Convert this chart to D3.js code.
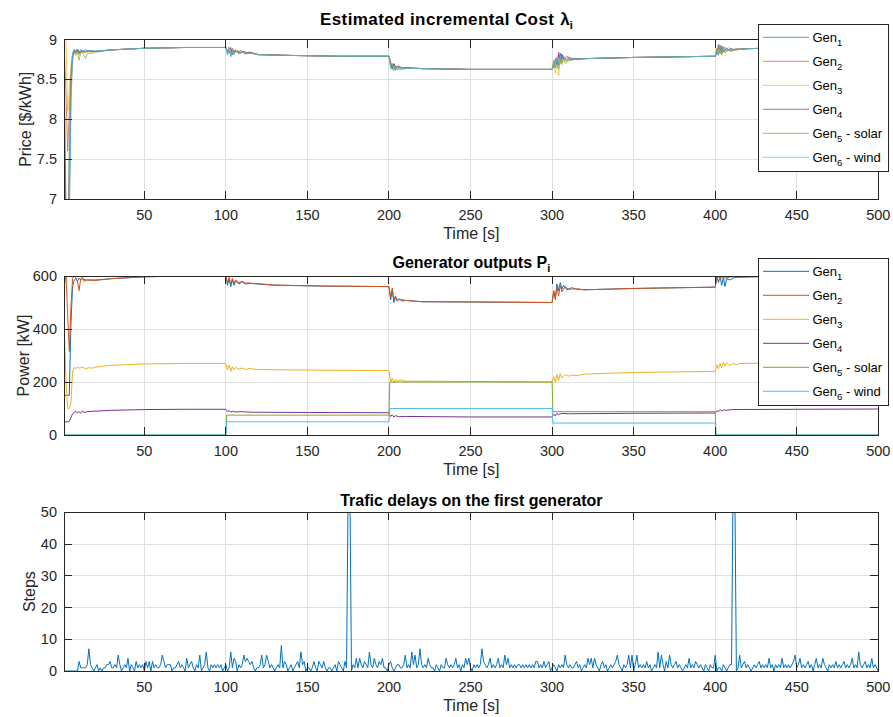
<!DOCTYPE html>
<html><head><meta charset="utf-8">
<script src="https://cdn.jsdelivr.net/npm/d3@7"></script>
<style>
body{margin:0;background:#fff}
svg{font-family:"Liberation Sans",Arial,Helvetica,sans-serif;display:block}
</style>
</head><body>
<svg id="chart" width="893" height="717"></svg>
<script>
// ---------------- DATA ----------------
const genLabels = ["Gen","Gen","Gen","Gen","Gen","Gen"];
const genSubs = ["1","2","3","4","5","6"];
const genSuffix = ["","","",""," - solar"," - wind"];
const genColors = ["#0072BD","#D95319","#EDB120","#7E2F8E","#77AC30","#4DBEEE"];

const timeTicks = [50,100,150,200,250,300,350,400,450,500];
const priceTicks = [7,7.5,8,8.5,9];
const powerTicks = [0,200,400,600];
const stepTicks = [0,10,20,30,40,50];

// Estimated incremental cost lambda_i  [t, $/kWh]
const lambdaGen1 = [[1,7.62],[2,6.6],[3,6.3],[4,6.7],[5,8.3],[6,8.78],[7,8.87],[8,8.84],[9,8.88],[10,8.84],[11,8.87],[12,8.85],[14,8.87],[16,8.85],[20,8.85],[30,8.87],[50,8.89],[75,8.9],[100,8.9],[101,8.82],[102,8.9],[103,8.79],[104,8.88],[105,8.82],[106,8.87],[108,8.83],[110,8.85],[112,8.82],[114,8.84],[120,8.81],[140,8.8],[170,8.79],[200,8.79],[201,8.68],[202,8.63],[203,8.69],[204,8.62],[205,8.66],[207,8.63],[210,8.645],[220,8.635],[250,8.625],[300,8.625],[301,8.7],[302,8.64],[303,8.77],[304,8.68],[305,8.83],[306,8.72],[307,8.79],[309,8.73],[311,8.77],[315,8.755],[320,8.76],[350,8.775],[400,8.79],[401,8.86],[402,8.8],[403,8.93],[404,8.83],[405,8.91],[407,8.85],[409,8.89],[412,8.87],[420,8.885],[450,8.9],[500,8.905]];
const lambdaGen2 = [[1,8.83],[2,8.3],[3,7.6],[4,8.1],[5,8.6],[6,8.82],[7,8.85],[8,8.83],[9,8.86],[10,8.82],[11,8.85],[13,8.84],[15,8.86],[20,8.85],[30,8.87],[50,8.89],[75,8.9],[100,8.9],[101,8.85],[102,8.88],[103,8.82],[104,8.89],[105,8.84],[107,8.86],[109,8.83],[111,8.85],[114,8.83],[120,8.81],[140,8.8],[170,8.79],[200,8.79],[201,8.7],[202,8.66],[203,8.68],[204,8.64],[206,8.66],[208,8.64],[210,8.645],[220,8.635],[250,8.625],[300,8.625],[301,8.68],[302,8.72],[303,8.66],[304,8.8],[305,8.7],[306,8.8],[308,8.74],[310,8.78],[312,8.75],[315,8.76],[320,8.76],[350,8.775],[400,8.79],[401,8.84],[402,8.9],[403,8.82],[404,8.92],[405,8.86],[406,8.9],[408,8.86],[410,8.88],[413,8.87],[420,8.885],[450,8.9],[500,8.905]];
const lambdaGen3 = [[1,9.1],[2,9.0],[3,8.1],[4,8.35],[5,8.65],[6,8.83],[7,8.86],[8,8.82],[9,8.85],[10,8.8],[11,8.85],[12,8.83],[14,8.85],[17,8.84],[20,8.85],[30,8.87],[50,8.89],[75,8.9],[100,8.9],[101,8.84],[102,8.91],[103,8.81],[104,8.87],[105,8.83],[106,8.88],[108,8.82],[110,8.85],[112,8.83],[115,8.84],[120,8.81],[140,8.8],[170,8.79],[200,8.79],[201,8.66],[202,8.7],[203,8.62],[204,8.67],[205,8.63],[207,8.65],[210,8.64],[220,8.635],[250,8.625],[300,8.625],[301,8.72],[302,8.58],[303,8.74],[304,8.55],[305,8.78],[306,8.68],[307,8.8],[308,8.72],[310,8.77],[312,8.74],[315,8.76],[320,8.76],[350,8.775],[400,8.79],[401,8.88],[402,8.82],[403,8.9],[404,8.8],[405,8.92],[406,8.85],[408,8.9],[410,8.86],[413,8.88],[420,8.885],[450,8.9],[500,8.905]];
const lambdaGen4 = [[1,8.5],[2,6.8],[3,6.5],[4,7.5],[5,8.5],[6,8.8],[7,8.86],[8,8.84],[9,8.87],[10,8.83],[12,8.86],[14,8.84],[16,8.86],[20,8.85],[30,8.87],[50,8.89],[75,8.9],[100,8.9],[101,8.86],[102,8.83],[103,8.9],[104,8.81],[105,8.86],[107,8.84],[109,8.86],[112,8.83],[115,8.84],[120,8.81],[140,8.8],[170,8.79],[200,8.79],[201,8.72],[202,8.64],[203,8.7],[204,8.65],[206,8.67],[208,8.64],[210,8.645],[220,8.635],[250,8.625],[300,8.625],[301,8.66],[302,8.76],[303,8.7],[304,8.84],[305,8.74],[306,8.82],[307,8.75],[309,8.79],[311,8.75],[315,8.76],[320,8.76],[350,8.775],[400,8.79],[401,8.82],[402,8.94],[403,8.85],[404,8.9],[405,8.84],[407,8.89],[409,8.86],[412,8.88],[420,8.885],[450,8.9],[500,8.905]];
const lambdaGen5 = [[1,7.2],[2,6.2],[3,6.3],[4,7.6],[5,8.5],[6,8.72],[7,8.84],[8,8.8],[9,8.84],[10,8.74],[11,8.83],[12,8.85],[13,8.8],[14,8.76],[15,8.83],[17,8.82],[20,8.84],[30,8.87],[50,8.89],[75,8.9],[100,8.9],[101,8.83],[102,8.88],[103,8.8],[104,8.86],[105,8.81],[106,8.86],[108,8.82],[110,8.84],[113,8.82],[116,8.83],[120,8.81],[140,8.8],[170,8.79],[200,8.79],[201,8.64],[202,8.69],[203,8.61],[204,8.67],[205,8.62],[207,8.65],[209,8.63],[212,8.64],[220,8.635],[250,8.625],[300,8.625],[301,8.74],[302,8.66],[303,8.72],[304,8.63],[305,8.76],[306,8.7],[307,8.75],[308,8.7],[310,8.73],[313,8.75],[316,8.745],[320,8.76],[350,8.775],[400,8.79],[401,8.89],[402,8.83],[403,8.87],[404,8.81],[405,8.88],[406,8.83],[408,8.87],[410,8.85],[413,8.875],[420,8.885],[450,8.9],[500,8.905]];
const lambdaGen6 = [[1,6.5],[2,6.0],[3,6.2],[4,6.9],[5,8.1],[6,8.83],[7,8.88],[8,8.86],[9,8.88],[10,8.85],[11,8.87],[13,8.85],[15,8.86],[20,8.855],[30,8.87],[50,8.89],[75,8.9],[100,8.9],[101,8.8],[102,8.89],[103,8.78],[104,8.87],[105,8.81],[106,8.86],[108,8.82],[110,8.84],[112,8.82],[115,8.83],[120,8.81],[140,8.8],[170,8.79],[200,8.79],[201,8.65],[202,8.62],[203,8.67],[204,8.61],[205,8.65],[207,8.62],[210,8.64],[220,8.635],[250,8.625],[300,8.625],[301,8.71],[302,8.65],[303,8.78],[304,8.7],[305,8.79],[306,8.73],[308,8.77],[310,8.74],[312,8.76],[316,8.755],[320,8.76],[350,8.775],[400,8.79],[401,8.85],[402,8.81],[403,8.91],[404,8.84],[405,8.9],[407,8.86],[409,8.88],[412,8.87],[420,8.885],[450,8.9],[500,8.905]];

// Generator outputs P_i  [t, kW]
const powerGen1 = [[1,150],[2,150],[3,150],[4,150],[5,420],[6,560],[7,585],[8,590],[9,580],[10,592],[11,585],[12,590],[14,585],[20,585],[30,590],[50,597],[75,600],[100,600],[101,565],[102,590],[103,560],[104,585],[105,565],[106,580],[108,570],[110,578],[112,570],[115,572],[130,565],[160,562],[200,560],[201,510],[202,545],[203,500],[204,520],[205,505],[206,515],[208,505],[210,508],[220,503],[250,502],[300,500],[301,540],[302,520],[303,570],[304,545],[305,575],[306,550],[307,565],[309,548],[312,556],[315,550],[320,548],[350,553],[400,558],[401,600],[402,575],[403,598],[404,565],[405,595],[406,560],[407,590],[409,585],[412,595],[420,596],[450,600],[500,602]];
const powerGen2 = [[1,570],[2,600],[3,450],[4,315],[5,480],[6,590],[7,600],[8,595],[9,580],[10,545],[11,590],[12,595],[13,580],[15,585],[20,583],[30,590],[50,597],[75,600],[100,600],[101,575],[102,595],[103,570],[104,592],[105,572],[106,585],[108,575],[110,580],[112,574],[115,573],[130,566],[160,562],[200,560],[201,520],[202,555],[203,510],[204,525],[205,508],[207,512],[210,508],[220,503],[250,502],[300,500],[301,545],[302,510],[303,560],[304,525],[305,565],[306,540],[308,560],[310,550],[315,552],[320,548],[350,553],[400,558],[401,590],[402,600],[403,585],[404,598],[406,592],[410,597],[420,598],[450,600],[500,602]];
const powerGen3 = [[1,390],[2,200],[3,100],[4,100],[5,120],[6,240],[7,255],[8,250],[9,258],[10,252],[12,256],[14,250],[16,254],[18,252],[20,256],[25,260],[30,263],[50,268],[75,270],[100,270],[101,245],[102,265],[103,240],[104,258],[105,245],[106,255],[108,248],[110,253],[112,247],[114,251],[120,247],[150,245],[200,243],[201,200],[202,215],[203,198],[204,210],[205,203],[207,208],[210,203],[220,203],[250,202],[300,200],[301,220],[302,198],[303,228],[304,205],[305,232],[306,215],[308,228],[310,222],[312,226],[315,224],[320,230],[350,236],[400,240],[401,265],[402,250],[403,270],[404,255],[405,275],[406,260],[407,272],[409,262],[411,270],[413,265],[415,270],[450,272],[500,273]];
const powerGen4 = [[1,50],[2,50],[3,50],[4,52],[5,65],[6,80],[7,85],[8,90],[9,83],[10,88],[11,82],[12,91],[13,85],[15,88],[20,90],[30,93],[50,96],[75,97],[100,97],[101,88],[102,93],[103,86],[104,90],[106,87],[110,88],[115,86],[150,85],[200,84],[201,70],[202,76],[203,68],[204,73],[206,69],[210,70],[250,68],[300,68],[301,78],[302,72],[303,82],[304,77],[306,82],[310,80],[350,82],[400,83],[401,92],[402,88],[403,96],[404,90],[405,95],[407,93],[410,96],[450,97],[500,98]];
const powerGen5 = [[1,0],[100,0],[100.5,75],[200,75],[200.5,200],[300,200],[300.5,88],[400,88],[400.5,0],[500,0]];
const powerGen6 = [[1,0],[100,0],[100.5,50],[200,50],[200.5,100],[300,100],[300.5,45],[400,45],[400.5,0],[500,0]];

// Traffic delays on the first generator, steps per second t = 1..500
const delaySteps = [
0,0,0,0,0,0,0,0,0,3, 1,1,1,1,2,7,2,1,0,1, 2,0,1,0,1,1,2,2,3,1, 1,2,1,5,2,0,1,2,1,4,
0,2,1,0,3,1,2,1,2,0, 3,1,3,0,3,1,2,1,1,2, 5,3,1,2,2,2,0,1,1,2, 3,1,2,1,0,4,1,2,3,1,
0,2,1,5,0,1,2,6,1,0, 2,1,2,1,2,1,2,0,1,2, 0,1,6,1,4,3,0,2,1,2, 5,3,4,3,2,3,1,0,1,1,
2,5,1,2,5,3,1,2,1,0, 1,2,1,8,1,3,2,0,1,2, 0,1,2,3,1,6,2,3,0,1, 1,0,1,3,1,0,3,2,1,3,
1,0,1,1,0,1,2,0,3,2, 1,0,3,1,60,60,0,2,1,4, 1,4,2,1,3,2,1,6,2,1, 4,2,1,3,2,4,1,1,0,2,
3,1,0,1,2,2,1,1,2,5, 1,2,1,6,2,5,1,2,7,2, 1,2,1,4,2,1,1,0,2,1, 0,2,1,1,4,2,1,2,1,2,
4,1,2,0,2,1,4,2,4,1, 0,2,1,2,1,2,7,3,2,1, 2,4,1,2,1,2,4,1,2,1, 5,2,4,1,2,1,2,1,2,2,
1,2,1,2,1,2,1,2,1,3, 3,1,2,1,3,1,2,3,0,1, 2,1,0,2,1,2,1,5,2,1, 2,1,1,2,3,1,2,0,1,2,
1,4,2,4,1,4,2,1,0,2, 3,1,2,0,1,2,1,2,3,5, 2,1,0,2,1,2,5,1,5,0, 2,5,1,2,1,2,1,3,1,2,
0,1,2,1,6,1,5,2,0,3, 1,5,2,1,2,3,1,2,1,0, 1,2,1,4,1,2,1,3,2,1, 2,1,0,2,1,0,2,1,1,5,
0,1,1,0,2,1,0,1,2,2, 60,60,0,1,5,1,2,3,1,2, 1,0,1,2,1,2,3,1,2,1, 2,1,4,1,2,0,2,1,2,1,
4,1,2,1,2,1,2,3,5,1, 2,4,1,2,1,2,3,1,2,0, 2,4,1,2,1,4,2,1,0,2, 1,2,1,3,1,2,1,2,3,1,
2,1,2,4,1,2,1,6,2,1, 2,3,1,2,1,4,1,2,1,0];
const delayTime = d3.range(1, delaySteps.length + 1);

// ---------------- DRAWING ----------------
const svg = d3.select("#chart");
const X0 = 64.4, X1 = 878.3;
const x = d3.scaleLinear().domain([1, 500]).range([X0, X1]);
const axisColor = "#262626";
const gridColor = "#dfdfdf";
const tickFont = 14.5;
const legendFont = 13;

function panel(opt) {
  const y = d3.scaleLinear().domain(opt.yDomain).range([opt.bottom, opt.top]);
  const g = svg.append("g");
  const clipId = "clip" + opt.id;
  svg.append("clipPath").attr("id", clipId).append("rect")
    .attr("x", X0).attr("y", opt.top).attr("width", X1 - X0).attr("height", opt.bottom - opt.top);

  // grid
  g.append("g").attr("shape-rendering","crispEdges").selectAll("line").data(timeTicks).join("line")
    .attr("x1", d => x(d)).attr("x2", d => x(d)).attr("y1", opt.top).attr("y2", opt.bottom)
    .attr("stroke", gridColor).attr("stroke-width", 1);
  g.append("g").attr("shape-rendering","crispEdges").selectAll("line").data(opt.yTicks).join("line")
    .attr("x1", X0).attr("x2", X1).attr("y1", d => y(d)).attr("y2", d => y(d))
    .attr("stroke", gridColor).attr("stroke-width", 1);

  // lines
  const line = d3.line().x(d => x(d[0])).y(d => y(d[1]));
  const lg = g.append("g").attr("clip-path", `url(#${clipId})`);
  opt.series.forEach((s, i) => {
    lg.append("path").attr("d", line(s)).attr("fill", "none")
      .attr("stroke", opt.colors[i]).attr("stroke-width", 1)
      .attr("stroke-opacity", opt.opacity).attr("stroke-linejoin","round");
  });

  // axes box + ticks (inward, all sides)
  const ax = g.append("g").attr("shape-rendering","crispEdges");
  const tl = 8;
  ax.append("rect").attr("x", X0).attr("y", opt.top).attr("width", X1 - X0).attr("height", opt.bottom - opt.top)
    .attr("fill","none").attr("stroke", axisColor).attr("stroke-width", 1);
  timeTicks.forEach(t => {
    ax.append("line").attr("x1", x(t)).attr("x2", x(t)).attr("y1", opt.bottom).attr("y2", opt.bottom - tl).attr("stroke", axisColor);
    ax.append("line").attr("x1", x(t)).attr("x2", x(t)).attr("y1", opt.top).attr("y2", opt.top + tl).attr("stroke", axisColor);
  });
  opt.yTicks.forEach(v => {
    ax.append("line").attr("x1", X0).attr("x2", X0 + tl).attr("y1", y(v)).attr("y2", y(v)).attr("stroke", axisColor);
    ax.append("line").attr("x1", X1).attr("x2", X1 - tl).attr("y1", y(v)).attr("y2", y(v)).attr("stroke", axisColor);
  });

  // tick labels
  g.append("g").selectAll("text").data(timeTicks).join("text")
    .attr("x", d => x(d)).attr("y", opt.bottom + 21).attr("text-anchor","middle")
    .attr("font-size", tickFont).attr("fill", axisColor).text(d => d);
  g.append("g").selectAll("text").data(opt.yTicks).join("text")
    .attr("x", 57).attr("y", d => y(d) + 5).attr("text-anchor","end")
    .attr("font-size", tickFont).attr("fill", axisColor).text(d => d);

  // x label
  g.append("text").attr("x", (X0 + X1) / 2).attr("y", opt.bottom + 40).attr("text-anchor","middle")
    .attr("font-size", 16).attr("fill", axisColor).text("Time [s]");
  // y label
  const cy = (opt.top + opt.bottom) / 2;
  g.append("text").attr("transform", `translate(${opt.ylabelX},${cy}) rotate(-90)`).attr("text-anchor","middle")
    .attr("font-size", 16).attr("fill", axisColor).text(opt.ylabel);

  // title
  const tt = g.append("text").attr("y", opt.titleY)
    .attr("font-size", opt.titleSize || 16).attr("font-weight","bold").attr("fill","#000");
  if (opt.titleStart !== undefined) {
    tt.attr("x", opt.titleStart).attr("text-anchor","start");
  } else {
    tt.attr("x", (X0 + X1) / 2).attr("text-anchor","middle");
  }
  tt.append("tspan").attr("letter-spacing", opt.titleSpacing || 0).text(opt.title);
  if (opt.titleSym) tt.append("tspan").attr("dx", opt.titleSymDx || 0).text(opt.titleSym);
  if (opt.titleSub) tt.append("tspan").attr("font-size", 11).attr("dy", 4).text(opt.titleSub);

  // legend
  if (opt.legendTop !== undefined) {
    const L = g.append("g");
    const lx = 758, lw = 130, lh = 147;
    L.append("rect").attr("x", lx).attr("y", opt.legendTop).attr("width", lw).attr("height", lh)
      .attr("fill","#fff").attr("stroke", axisColor).attr("stroke-width", 1).attr("shape-rendering","crispEdges");
    genLabels.forEach((lab, i) => {
      const ry = opt.legendTop + 13.3 + i * 24;
      L.append("line").attr("x1", 763).attr("x2", 809).attr("y1", ry).attr("y2", ry)
        .attr("stroke", opt.colors[i]).attr("stroke-width", 1).attr("stroke-opacity", opt.opacity);
      const t = L.append("text").attr("x", 812.5).attr("y", ry + 4.5).attr("font-size", legendFont).attr("fill", "#000");
      t.append("tspan").text(lab);
      t.append("tspan").attr("font-size", 9.5).attr("dy", 4).text(genSubs[i]);
      if (genSuffix[i]) t.append("tspan").attr("dy", -4).text(genSuffix[i]);
    });
  }
  return y;
}

panel({id: 1, top: 39.5, bottom: 199, yDomain: [7, 9], yTicks: priceTicks,
  series: [lambdaGen1, lambdaGen2, lambdaGen3, lambdaGen4, lambdaGen5, lambdaGen6],
  colors: genColors, opacity: 0.7,
  ylabel: "Price [$/kWh]", ylabelX: 31, title: "Estimated incremental Cost", titleStart: 320,
  titleSize: 17, titleSpacing: 0.4,
  titleSym: "λ", titleSymDx: 6, titleSub: "i", titleY: 25,
  legendTop: 24});

panel({id: 2, top: 276, bottom: 435, yDomain: [0, 600], yTicks: powerTicks,
  series: [powerGen1, powerGen2, powerGen3, powerGen4, powerGen5, powerGen6],
  colors: genColors, opacity: 1,
  ylabel: "Power [kW]", ylabelX: 29, title: "Generator outputs P", titleSub: "i", titleY: 268,
  legendTop: 258});

panel({id: 3, top: 512.3, bottom: 671, yDomain: [0, 50], yTicks: stepTicks,
  series: [delayTime.map((t, i) => [t, delaySteps[i]])],
  colors: ["#0072BD"], opacity: 1,
  ylabel: "Steps", ylabelX: 35, title: "Trafic delays on the first generator", titleY: 506});
</script>
</body></html>
